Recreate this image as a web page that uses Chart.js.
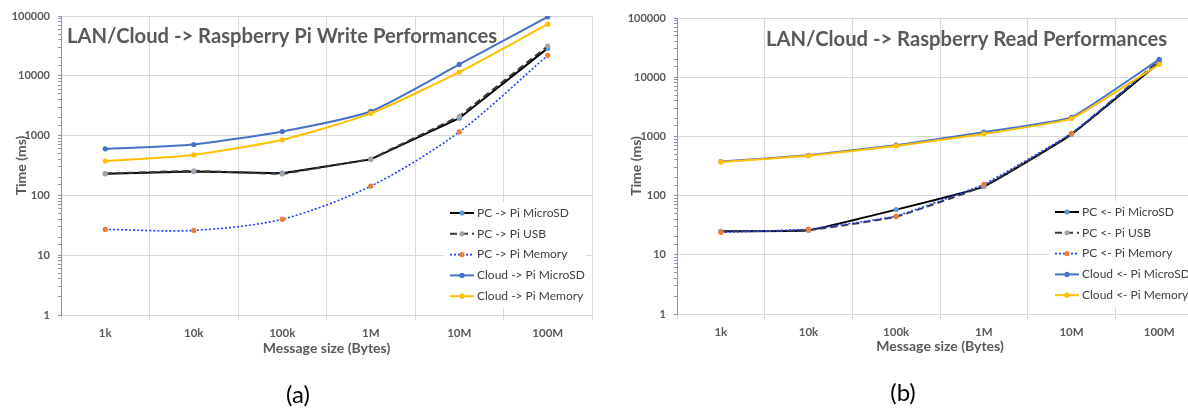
<!DOCTYPE html>
<html>
<head>
<meta charset="utf-8">
<script src="https://cdn.jsdelivr.net/npm/chart.js@4/dist/chart.umd.min.js"></script>
<style>
  body { margin: 0; width: 1188px; height: 410px; overflow: hidden; background: #fff; position: relative; }
  .box { position: absolute; top: 0; height: 410px; }
  .cap { position: absolute; font-family: Lato, sans-serif; font-size: 24px; color: #000; transform: translate(-50%, -50%); }
</style>
</head>
<body>
<div class="box" style="left:0;width:600px"><canvas id="writeChart"></canvas></div>
<div class="box" style="left:600px;width:610px"><canvas id="readChart"></canvas></div>
<div class="cap" style="left:298px;top:393px">(a)</div>
<div class="cap" style="left:903px;top:391px">(b)</div>
<script>
const sizes = ['1k', '10k', '100k', '1M', '10M', '100M'];
const yTicks = [1, 10, 100, 1000, 10000, 100000];

// write times (ms)
const writePcMicroSD = [230, 250, 235, 400, 1950, 29000];
const writePcUsb = [232, 258, 228, 405, 2100, 31500];
const writePcMemory = [27, 26, 40, 143, 1150, 22000];
const writeCloudMicroSD = [600, 710, 1170, 2550, 15500, 97000];
const writeCloudMemory = [375, 475, 850, 2350, 11500, 73000];

// read times (ms)
const readPcMicroSD = [25, 26, 58, 142, 1080, 17500];
const readPcUsb = [25, 26, 44, 145, 1100, 19000];
const readPcMemory = [24, 27, 45, 155, 1130, 18500];
const readCloudMicroSD = [375, 480, 710, 1180, 2100, 20000];
const readCloudMemory = [370, 470, 690, 1100, 2000, 16500];

const gray = '#595959';
const font = 'Lato, sans-serif';

function isDecade(v) {
  const l = Math.log10(v);
  return Math.abs(l - Math.round(l)) < 1e-9;
}

function series(label, data, color, mark, dash, width, order, tension) {
  return {
    label, data,
    borderColor: color, borderWidth: width, borderDash: dash,
    pointRadius: 2.6, pointBackgroundColor: mark, pointBorderColor: mark, pointBorderWidth: 0,
    tension: tension, order: order, fill: false
  };
}

// titles, axis titles and the legend box drawn inside the plot
const overlay = {
  id: 'overlay',
  afterDraw(chart, args, o) {
    const { ctx, chartArea: a } = chart;
    ctx.save();
    ctx.fillStyle = gray;
    ctx.textBaseline = 'middle';
    ctx.font = 'bold 20.2px ' + font;
    ctx.fillText(o.title, o.titleX, o.titleY);

    ctx.font = 'bold 14px ' + font;
    ctx.textAlign = 'center';
    ctx.fillText('Message size (Bytes)', (a.left + a.right) / 2, o.xTitleY);
    ctx.save();
    ctx.translate(o.yTitleX, (a.top + a.bottom) / 2);
    ctx.rotate(-Math.PI / 2);
    ctx.fillText('Time (ms)', 0, 0);
    ctx.restore();

    // legend
    ctx.fillStyle = '#fff';
    ctx.fillRect(o.legX - 6, o.legY - 11, o.legW, 106);
    ctx.textAlign = 'left';
    ctx.font = '12px ' + font;
    chart.data.datasets.forEach((d, i) => {
      const y = o.legY + i * 20.8;
      ctx.strokeStyle = d.borderColor;
      ctx.lineWidth = d.borderWidth;
      ctx.setLineDash(d.borderDash || []);
      ctx.beginPath();
      ctx.moveTo(o.legX, y);
      ctx.lineTo(o.legX + 24, y);
      ctx.stroke();
      ctx.setLineDash([]);
      ctx.fillStyle = d.pointBackgroundColor;
      ctx.beginPath();
      ctx.arc(o.legX + 12, y, 2.6, 0, Math.PI * 2);
      ctx.fill();
      ctx.fillStyle = '#404040';
      ctx.fillText(d.label, o.legX + 27, y);
    });
    ctx.restore();
  }
};

function makeChart(id, datasets, yWidth, padTop, padRight, plotBottom, overlayOpts) {
  return new Chart(document.getElementById(id), {
    type: 'line',
    data: { labels: sizes, datasets },
    plugins: [overlay],
    options: {
      responsive: false,
      animation: false,
      layout: { padding: { top: padTop, right: padRight, left: 0, bottom: 0 } },
      plugins: { legend: { display: false }, tooltip: { enabled: false }, overlay: overlayOpts },
      scales: {
        x: {
          offset: true,
          grid: { offset: true, color: '#d9d9d9', tickColor: '#d9d9d9', tickLength: 5 },
          border: { color: '#d9d9d9' },
          ticks: { color: gray, font: { family: font, size: 11.5, weight: 'bold' }, padding: 6, maxRotation: 0 },
          afterFit: s => { s.height = 410 - plotBottom; }
        },
        y: {
          type: 'logarithmic',
          min: yTicks[0], max: yTicks[yTicks.length - 1],
          grid: {
            color: c => isDecade(c.tick.value) ? '#d9d9d9' : 'rgba(0,0,0,0)',
            tickColor: '#8497b0', tickLength: 3
          },
          border: { color: '#8497b0' },
          ticks: {
            autoSkip: false, color: gray, padding: 8,
            font: { family: font, size: 11, weight: 'bold' },
            callback: v => yTicks.includes(v) ? String(v) : ''
          },
          afterFit: s => { s.width = yWidth; }
        }
      }
    }
  });
}

const wc = document.getElementById('writeChart');
wc.width = 600; wc.height = 410;
const rc = document.getElementById('readChart');
rc.width = 610; rc.height = 410;

makeChart('writeChart', [
  series('PC -> Pi MicroSD', writePcMicroSD, '#000000', '#5b9bd5', [], 2, 5, 0),
  series('PC -> Pi USB', writePcUsb, '#3a3a3a', '#a5a5a5', [7, 4], 2, 4, 0),
  series('PC -> Pi Memory', writePcMemory, '#1f3fff', '#ed7d31', [2, 2], 1.6, 3, 0.3),
  series('Cloud -> Pi MicroSD', writeCloudMicroSD, '#4472c4', '#4472c4', [], 2, 2, 0.2),
  series('Cloud -> Pi Memory', writeCloudMemory, '#ffc000', '#ffc000', [], 2, 1, 0.2)
], 61, 16, 8, 315, {
  title: 'LAN/Cloud -> Raspberry Pi Write Performances', titleX: 67, titleY: 36,
  xTitleY: 348, yTitleX: 21, legX: 450, legY: 213, legW: 142
});

makeChart('readChart', [
  series('PC <- Pi MicroSD', readPcMicroSD, '#000000', '#5b9bd5', [], 2, 5, 0.1),
  series('PC <- Pi USB', readPcUsb, '#3a3a3a', '#a5a5a5', [7, 4], 2, 4, 0.1),
  series('PC <- Pi Memory', readPcMemory, '#1f3fff', '#ed7d31', [2, 2], 1.6, 3, 0.1),
  series('Cloud <- Pi MicroSD', readCloudMicroSD, '#4472c4', '#4472c4', [], 2, 2, 0.1),
  series('Cloud <- Pi Memory', readCloudMemory, '#ffc000', '#ffc000', [], 2, 1, 0.1)
], 77, 18, 7, 314, {
  title: 'LAN/Cloud -> Raspberry Read Performances', titleX: 166, titleY: 39,
  xTitleY: 346, yTitleX: 36, legX: 455, legY: 212, legW: 160
});
</script>
</body>
</html>
